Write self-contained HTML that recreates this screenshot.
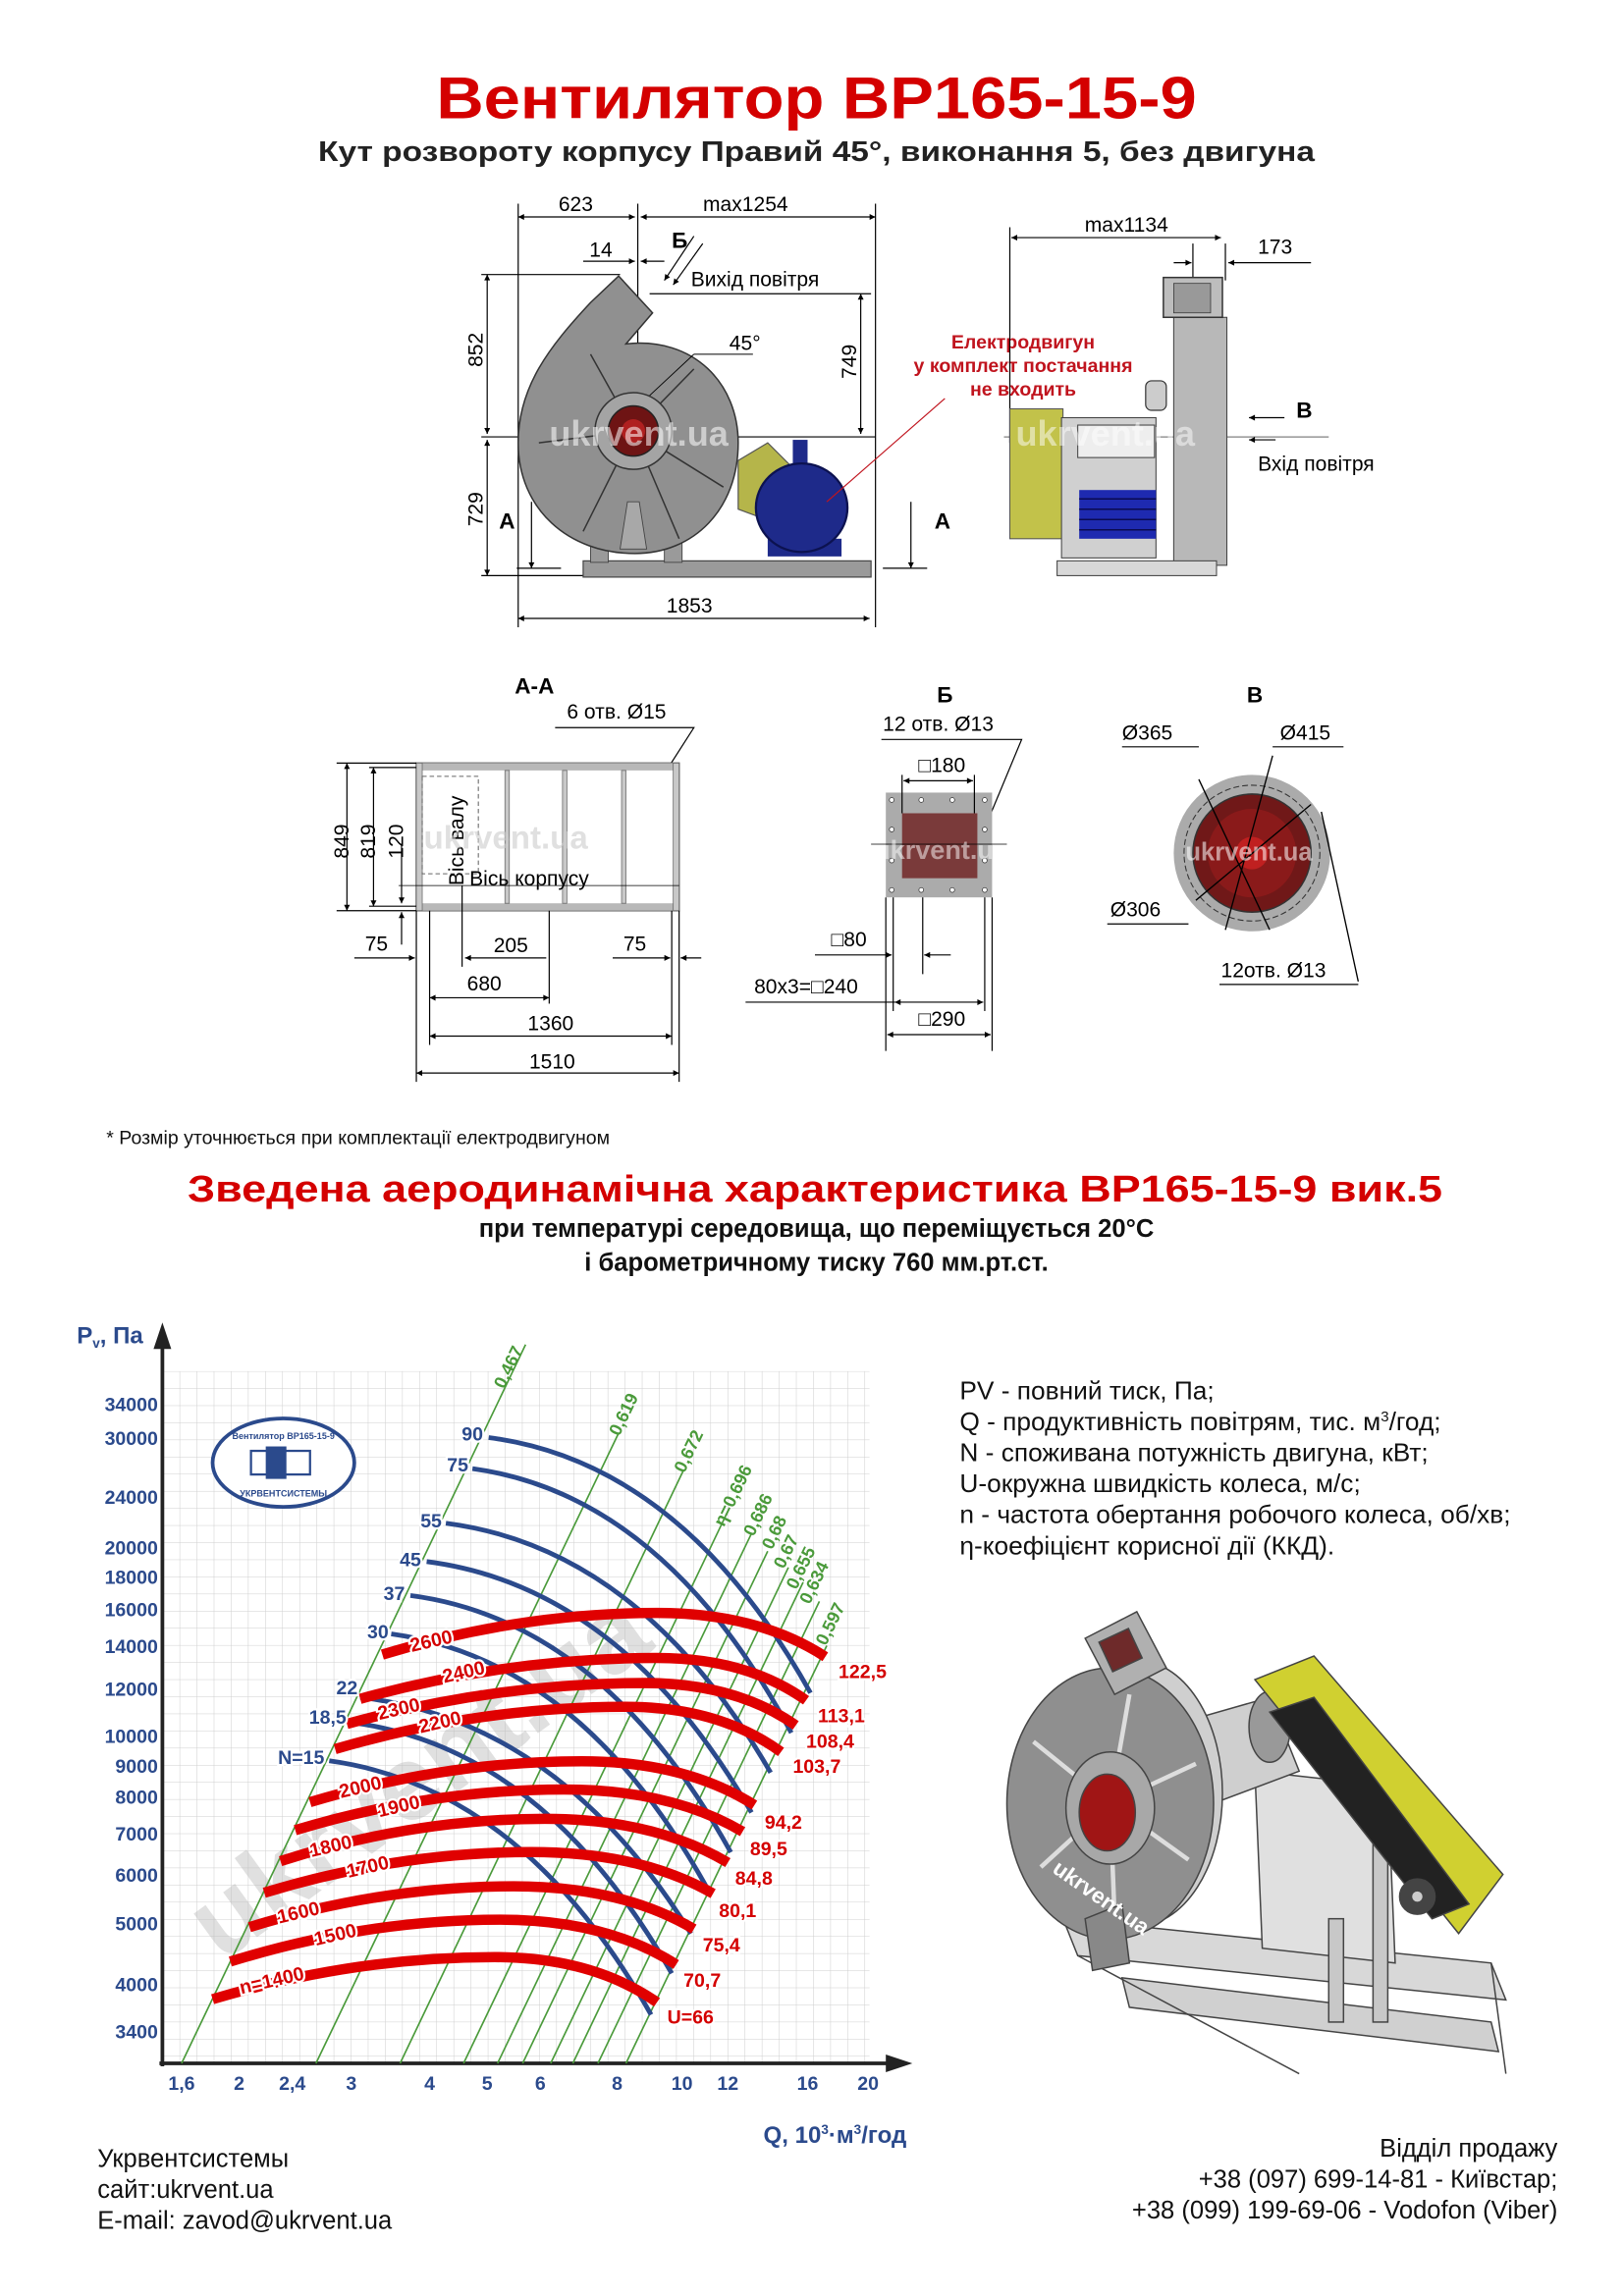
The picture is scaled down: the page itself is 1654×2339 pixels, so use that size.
<!DOCTYPE html>
<html><head><meta charset="utf-8"><style>
html,body{margin:0;padding:0;background:#fff;}
svg{display:block;font-family:"Liberation Sans",Arial,sans-serif;}
.b{font-weight:bold}
.dim{stroke:#000;stroke-width:0.8;fill:none}
.t{font-size:14px;fill:#000}
.ax{font-size:13px;font-weight:bold;fill:#2b4a8c}
.rl{font-size:13px;font-weight:bold;fill:#d40000;stroke:#fff;stroke-width:3;paint-order:stroke}
.bl{font-size:13px;font-weight:bold;fill:#2b4a8c;stroke:#fff;stroke-width:3;paint-order:stroke}
.gl{font-size:12px;font-weight:bold;fill:#4a9a3a}
.red path{fill:none;stroke:#e00000;stroke-width:7}
.blue path{fill:none;stroke:#2b4a8c;stroke-width:3.2}
.grn line{stroke:#4a9a3a;stroke-width:1.1}
</style></head><body>
<svg width="1654" height="2339" viewBox="0 0 1100 1555.6" preserveAspectRatio="none" xmlns="http://www.w3.org/2000/svg">
<defs>
<pattern id="g" x="110" y="929" width="11.6" height="11.6" patternUnits="userSpaceOnUse">
<path d="M0 0H11.6M0 0V11.6" stroke="#cfcfcf" stroke-width="0.7" fill="none"/></pattern>
<marker id="ar" viewBox="0 0 10 10" refX="10" refY="5" markerWidth="9" markerHeight="5" orient="auto-start-reverse"><path d="M0 0L10 5L0 10z" fill="#000"/></marker>
</defs>

<!-- Titles -->
<text x="553" y="80" text-anchor="middle" class="b" font-size="40" fill="#d40000" textLength="515" lengthAdjust="spacingAndGlyphs">Вентилятор ВР165-15-9</text>
<text x="553" y="109" text-anchor="middle" class="b" font-size="19" fill="#222" textLength="675" lengthAdjust="spacingAndGlyphs">Кут розвороту корпусу Правий 45°, виконання 5, без двигуна</text>

<!-- Front view -->
<g class="dim">
<line x1="351" y1="138" x2="351" y2="425"/><line x1="432" y1="138" x2="432" y2="300"/><line x1="593" y1="138" x2="593" y2="425"/>
<line x1="351" y1="147" x2="430" y2="147" marker-start="url(#ar)" marker-end="url(#ar)"/>
<line x1="434" y1="147" x2="593" y2="147" marker-start="url(#ar)" marker-end="url(#ar)"/>
<line x1="395" y1="177" x2="430" y2="177" marker-end="url(#ar)"/><line x1="450" y1="177" x2="434" y2="177" marker-end="url(#ar)"/>
<line x1="326" y1="186" x2="420" y2="186"/><line x1="326" y1="296" x2="593" y2="296"/><line x1="326" y1="390" x2="395" y2="390"/>
<line x1="330" y1="186" x2="330" y2="294" marker-start="url(#ar)" marker-end="url(#ar)"/>
<line x1="330" y1="298" x2="330" y2="390" marker-start="url(#ar)" marker-end="url(#ar)"/>
<line x1="440" y1="199" x2="590" y2="199"/>
<line x1="583" y1="199" x2="583" y2="294" marker-start="url(#ar)" marker-end="url(#ar)"/>
<line x1="351" y1="419" x2="589" y2="419" marker-start="url(#ar)" marker-end="url(#ar)"/>
<line x1="360" y1="340" x2="360" y2="385" marker-end="url(#ar)"/><line x1="350" y1="385" x2="380" y2="385"/>
<line x1="617" y1="340" x2="617" y2="385" marker-end="url(#ar)"/><line x1="598" y1="385" x2="628" y2="385"/>
<line x1="470" y1="160" x2="450" y2="190" marker-end="url(#ar)"/><line x1="476" y1="165" x2="456" y2="193" marker-end="url(#ar)"/>
</g>
<text x="390" y="143" text-anchor="middle" class="t">623</text>
<text x="505" y="143" text-anchor="middle" class="t">max1254</text>
<text x="407" y="174" text-anchor="middle" class="t">14</text>
<text x="455" y="168" class="b" font-size="15">Б</text>
<text x="468" y="194" class="t">Вихід повітря</text>
<text transform="translate(327,237) rotate(-90)" text-anchor="middle" class="t">852</text>
<text transform="translate(327,345) rotate(-90)" text-anchor="middle" class="t">729</text>
<text transform="translate(580,245) rotate(-90)" text-anchor="middle" class="t">749</text>
<text x="338" y="358" class="b" font-size="15">А</text>
<text x="633" y="358" class="b" font-size="15">А</text>
<text x="467" y="415" text-anchor="middle" class="t">1853</text>

<!-- fan body -->
<path d="M500 312 L520 300 L550 330 L530 356 L500 345Z" fill="#b5b54a" stroke="#555" stroke-width="0.8"/>
<rect x="395" y="380" width="195" height="11" fill="#9a9a9a" stroke="#444" stroke-width="0.8"/>
<rect x="400" y="355" width="12" height="26" fill="#9a9a9a" stroke="#444" stroke-width="0.6"/>
<rect x="450" y="355" width="12" height="26" fill="#9a9a9a" stroke="#444" stroke-width="0.6"/>
<path d="M419 187 L442 212 L424 233 C470 228 500 260 500 300 C500 345 470 375 430 375 C385 375 351 345 351 300 C351 262 372 235 400 205 Z" fill="#909090" stroke="#333" stroke-width="1"/>
<g stroke="#333" stroke-width="1"><line x1="429" y1="292" x2="400" y2="240"/><line x1="429" y1="292" x2="470" y2="250"/><line x1="429" y1="292" x2="490" y2="330"/><line x1="429" y1="292" x2="460" y2="365"/><line x1="429" y1="292" x2="395" y2="360"/><line x1="429" y1="292" x2="365" y2="300"/></g>
<polygon points="420,372 438,372 433,340 425,340" fill="#a8a8a8" stroke="#444" stroke-width="0.6"/>
<circle cx="429" cy="292" r="26" fill="#a4a4a4" stroke="#333"/>
<circle cx="429" cy="292" r="17" fill="#6e1414" stroke="#222"/>
<circle cx="429" cy="292" r="8" fill="#b02020"/>
<text x="372" y="302" font-size="24" class="b" fill="#fff" opacity="0.55">ukrvent.ua</text>
<rect x="537" y="298" width="10" height="18" fill="#1e2a8a"/>
<rect x="520" y="365" width="50" height="12" fill="#1e2a8a"/>
<ellipse cx="543" cy="344" rx="31" ry="30" fill="#1e2a8a" stroke="#0c1250" stroke-width="1.5"/>
<line x1="640" y1="270" x2="560" y2="340" stroke="#c0141e" stroke-width="0.8"/>
<text x="494" y="237" class="t">45°</text>
<line x1="470" y1="240" x2="510" y2="240" stroke="#000" stroke-width="0.6"/>
<line x1="470" y1="240" x2="440" y2="268" stroke="#000" stroke-width="0.6"/>
<text x="693" y="236" text-anchor="middle" class="b" font-size="13" fill="#c0141e">Електродвигун</text>
<text x="693" y="252" text-anchor="middle" class="b" font-size="13" fill="#c0141e">у комплект постачання</text>
<text x="693" y="268" text-anchor="middle" class="b" font-size="13" fill="#c0141e">не входить</text>

<!-- side view -->
<g class="dim">
<line x1="684" y1="154" x2="684" y2="300"/><line x1="808" y1="165" x2="808" y2="190"/><line x1="830" y1="165" x2="830" y2="190"/>
<line x1="685" y1="161" x2="827" y2="161" marker-start="url(#ar)" marker-end="url(#ar)"/>
<line x1="795" y1="178" x2="807" y2="178" marker-end="url(#ar)"/><line x1="888" y1="178" x2="832" y2="178" marker-end="url(#ar)"/>
<line x1="870" y1="283" x2="846" y2="283" marker-end="url(#ar)"/><line x1="864" y1="298" x2="846" y2="298" marker-end="url(#ar)"/>
<line x1="680" y1="296" x2="900" y2="296" stroke-width="0.4"/>
</g>
<text x="763" y="157" text-anchor="middle" class="t">max1134</text>
<text x="852" y="172" class="t">173</text>
<text x="878" y="283" class="b" font-size="15">В</text>
<text x="852" y="319" class="t">Вхід повітря</text>
<rect x="684" y="277" width="36" height="88" fill="#c2c24a" stroke="#555" stroke-width="0.7"/>
<rect x="719" y="283" width="64" height="95" fill="#d0d0d0" stroke="#444" stroke-width="0.7"/>
<rect x="731" y="332" width="52" height="33" fill="#1e2ab0"/>
<g stroke="#0a0a50" stroke-width="1"><line x1="731" y1="338" x2="783" y2="338"/><line x1="731" y1="345" x2="783" y2="345"/><line x1="731" y1="352" x2="783" y2="352"/><line x1="731" y1="359" x2="783" y2="359"/></g>
<rect x="730" y="288" width="52" height="22" fill="#eee" stroke="#444" stroke-width="0.7"/>
<rect x="795" y="215" width="36" height="168" fill="#b8b8b8" stroke="#444" stroke-width="0.7"/>
<rect x="788" y="188" width="40" height="27" fill="#bdbdbd" stroke="#333" stroke-width="1"/>
<rect x="795" y="192" width="25" height="20" fill="#999" stroke="#333" stroke-width="0.5"/>
<rect x="776" y="258" width="14" height="20" rx="4" fill="#ccc" stroke="#333" stroke-width="0.8"/>
<rect x="716" y="380" width="108" height="10" fill="#d8d8d8" stroke="#444" stroke-width="0.7"/>
<text x="688" y="302" font-size="24" class="b" fill="#fff" opacity="0.5">ukrvent.ua</text>

<!-- Section A-A -->
<text x="362" y="470" text-anchor="middle" class="b" font-size="15">А-А</text>
<text x="384" y="487" class="t">6 отв. Ø15</text>
<polyline points="376,493 470,493 445,532" class="dim"/>
<rect x="282" y="517" width="178" height="100" fill="#fff" stroke="#555"/>
<rect x="282" y="517" width="178" height="5" fill="#b8b8b8"/>
<rect x="282" y="612" width="178" height="5" fill="#b8b8b8"/>
<g fill="#c8c8c8" stroke="#666" stroke-width="0.5"><rect x="282" y="517" width="4" height="100"/><rect x="342" y="522" width="3" height="90"/><rect x="381" y="522" width="3" height="90"/><rect x="421" y="522" width="3" height="90"/><rect x="456" y="517" width="4" height="100"/></g>
<rect x="286" y="526" width="38" height="66" fill="none" stroke="#666" stroke-dasharray="3,2" stroke-width="0.7"/>
<text transform="translate(314,600) rotate(-90)" class="t">Вісь валу</text>
<text x="318" y="600" class="t">Вісь корпусу</text>
<text x="287" y="575" font-size="22" class="b" fill="#ccc" opacity="0.6">ukrvent.ua</text>
<g class="dim">
<line x1="228" y1="517" x2="282" y2="517"/><line x1="228" y1="617" x2="282" y2="617"/><line x1="250" y1="520" x2="282" y2="520"/><line x1="250" y1="614" x2="282" y2="614"/>
<line x1="235" y1="517" x2="235" y2="617" marker-start="url(#ar)" marker-end="url(#ar)"/>
<line x1="253" y1="520" x2="253" y2="614" marker-start="url(#ar)" marker-end="url(#ar)"/>
<line x1="272" y1="572" x2="272" y2="612" marker-end="url(#ar)"/><line x1="272" y1="640" x2="272" y2="618" marker-end="url(#ar)"/>
<line x1="270" y1="600" x2="460" y2="600" stroke-width="0.5"/>
<line x1="282" y1="617" x2="282" y2="733"/><line x1="291" y1="617" x2="291" y2="708"/><line x1="313" y1="600" x2="313" y2="655"/><line x1="372" y1="617" x2="372" y2="680"/><line x1="455" y1="617" x2="455" y2="708"/><line x1="460" y1="617" x2="460" y2="733"/>
<line x1="240" y1="649" x2="281" y2="649" marker-end="url(#ar)"/><line x1="370" y1="649" x2="315" y2="649" marker-end="url(#ar)"/>
<line x1="415" y1="649" x2="454" y2="649" marker-end="url(#ar)"/><line x1="475" y1="649" x2="461" y2="649" marker-end="url(#ar)"/>
<line x1="291" y1="676" x2="372" y2="676" marker-start="url(#ar)" marker-end="url(#ar)"/>
<line x1="291" y1="702" x2="455" y2="702" marker-start="url(#ar)" marker-end="url(#ar)"/>
<line x1="282" y1="727" x2="460" y2="727" marker-start="url(#ar)" marker-end="url(#ar)"/>
</g>
<text transform="translate(236,570) rotate(-90)" text-anchor="middle" class="t">849</text>
<text transform="translate(254,570) rotate(-90)" text-anchor="middle" class="t">819</text>
<text transform="translate(273,570) rotate(-90)" text-anchor="middle" class="t">120</text>
<text x="255" y="644" text-anchor="middle" class="t">75</text>
<text x="346" y="645" text-anchor="middle" class="t">205</text>
<text x="430" y="644" text-anchor="middle" class="t">75</text>
<text x="328" y="671" text-anchor="middle" class="t">680</text>
<text x="373" y="698" text-anchor="middle" class="t">1360</text>
<text x="374" y="724" text-anchor="middle" class="t">1510</text>

<!-- Б -->
<text x="640" y="476" text-anchor="middle" class="b" font-size="15">Б</text>
<text x="598" y="495" class="t">12 отв. Ø13</text>
<polyline points="597,501 692,501 655,590" class="dim"/>
<rect x="600" y="537" width="72" height="71" fill="#ababab"/>
<rect x="611" y="551" width="51" height="44" fill="#7a3a3a"/>
<g fill="#fff" stroke="#333" stroke-width="0.5"><circle cx="604" cy="542" r="1.6"/><circle cx="624" cy="542" r="1.6"/><circle cx="645" cy="542" r="1.6"/><circle cx="667" cy="542" r="1.6"/><circle cx="604" cy="603" r="1.6"/><circle cx="624" cy="603" r="1.6"/><circle cx="645" cy="603" r="1.6"/><circle cx="667" cy="603" r="1.6"/><circle cx="604" cy="562" r="1.6"/><circle cx="604" cy="583" r="1.6"/><circle cx="667" cy="562" r="1.6"/><circle cx="667" cy="583" r="1.6"/></g>
<line x1="590" y1="572" x2="682" y2="572" stroke="#000" stroke-width="0.5"/>
<text x="592" y="582" font-size="18" class="b" fill="#fff" opacity="0.5">ukrvent.ua</text>
<text x="638" y="523" text-anchor="middle" class="t">□180</text>
<text x="575" y="641" text-anchor="middle" class="t">□80</text>
<text x="546" y="673" text-anchor="middle" class="t">80х3=□240</text>
<text x="638" y="695" text-anchor="middle" class="t">□290</text>
<g class="dim">
<line x1="611" y1="525" x2="611" y2="551"/><line x1="660" y1="525" x2="660" y2="551"/>
<line x1="612" y1="529" x2="659" y2="529" marker-start="url(#ar)" marker-end="url(#ar)"/>
<line x1="600" y1="608" x2="600" y2="712"/><line x1="672" y1="608" x2="672" y2="712"/><line x1="605" y1="608" x2="605" y2="685"/><line x1="625" y1="608" x2="625" y2="660"/><line x1="667" y1="608" x2="667" y2="685"/>
<line x1="552" y1="647" x2="604" y2="647" marker-end="url(#ar)"/><line x1="644" y1="647" x2="626" y2="647" marker-end="url(#ar)"/>
<line x1="505" y1="679" x2="606" y2="679"/><line x1="606" y1="679" x2="666" y2="679" marker-start="url(#ar)" marker-end="url(#ar)"/>
<line x1="601" y1="701" x2="671" y2="701" marker-start="url(#ar)" marker-end="url(#ar)"/>
</g>

<!-- В -->
<text x="850" y="476" text-anchor="middle" class="b" font-size="15">В</text>
<circle cx="848" cy="578" r="53" fill="#ababab"/>
<circle cx="848" cy="578" r="46" fill="none" stroke="#333" stroke-width="0.7" stroke-dasharray="4,2"/>
<circle cx="848" cy="578" r="40" fill="#701818" stroke="#333"/>
<circle cx="848" cy="578" r="30" fill="#8a1a1a"/>
<circle cx="848" cy="578" r="11" fill="#c02020"/>
<g stroke="#000" stroke-width="0.9"><line x1="812" y1="528" x2="860" y2="630"/><line x1="862" y1="512" x2="830" y2="630"/><line x1="810" y1="610" x2="888" y2="545"/><line x1="895" y1="550" x2="920" y2="665"/></g>
<line x1="760" y1="506" x2="812" y2="506" stroke="#000" stroke-width="0.8"/>
<line x1="862" y1="506" x2="910" y2="506" stroke="#000" stroke-width="0.8"/>
<line x1="750" y1="626" x2="805" y2="626" stroke="#000" stroke-width="0.8"/>
<line x1="826" y1="667" x2="920" y2="667" stroke="#000" stroke-width="0.8"/>
<text x="760" y="501" class="t">Ø365</text>
<text x="867" y="501" class="t">Ø415</text>
<text x="752" y="621" class="t">Ø306</text>
<text x="827" y="662" class="t">12отв. Ø13</text>
<text x="803" y="583" font-size="17" class="b" fill="#fff" opacity="0.55">ukrvent.ua</text>

<text x="72" y="775" font-size="13" fill="#111">* Розмір уточнюється при комплектації електродвигуном</text>

<!-- chart heading -->
<text x="552" y="814" text-anchor="middle" class="b" font-size="25" fill="#d40000" textLength="850" lengthAdjust="spacingAndGlyphs">Зведена аеродинамічна характеристика ВР165-15-9 вик.5</text>
<text x="553" y="838" text-anchor="middle" class="b" font-size="17" fill="#111">при температурі середовища, що переміщується 20°С</text>
<text x="553" y="861" text-anchor="middle" class="b" font-size="17" fill="#111">і барометричному тиску 760 мм.рт.ст.</text>

<!-- chart -->
<rect x="110" y="929" width="479" height="469" fill="url(#g)"/>
<line x1="110" y1="1400" x2="110" y2="908" stroke="#222" stroke-width="2.5"/>
<polygon points="110,896 104,914 116,914" fill="#222"/>
<line x1="108" y1="1398" x2="605" y2="1398" stroke="#222" stroke-width="2.5"/>
<polygon points="618,1398 600,1392 600,1404" fill="#222"/>
<text x="52" y="910" class="b" font-size="16" fill="#2b4a8c">P<tspan font-size="9" dy="3">v</tspan><tspan dy="-3">, Па</tspan></text>
<text x="614" y="1452" text-anchor="end" class="b" font-size="16" fill="#2b4a8c">Q, 10<tspan font-size="9" dy="-6">3</tspan><tspan dy="6">·м</tspan><tspan font-size="9" dy="-6">3</tspan><tspan dy="6">/год</tspan></text>
<g class="ax" text-anchor="end">
<text x="107" y="956">34000</text><text x="107" y="979">30000</text><text x="107" y="1019">24000</text><text x="107" y="1053">20000</text><text x="107" y="1073">18000</text><text x="107" y="1095">16000</text><text x="107" y="1120">14000</text><text x="107" y="1149">12000</text><text x="107" y="1181">10000</text><text x="107" y="1201">9000</text><text x="107" y="1222">8000</text><text x="107" y="1247">7000</text><text x="107" y="1275">6000</text><text x="107" y="1308">5000</text><text x="107" y="1349">4000</text><text x="107" y="1381">3400</text>
</g>
<g class="ax" text-anchor="middle">
<text x="123" y="1416">1,6</text><text x="162" y="1416">2</text><text x="198" y="1416">2,4</text><text x="238" y="1416">3</text><text x="291" y="1416">4</text><text x="330" y="1416">5</text><text x="366" y="1416">6</text><text x="418" y="1416">8</text><text x="462" y="1416">10</text><text x="493" y="1416">12</text><text x="547" y="1416">16</text><text x="588" y="1416">20</text>
</g>

<!-- logo -->
<ellipse cx="192" cy="991" rx="48" ry="30" fill="#fff" stroke="#2b4a8c" stroke-width="2.5"/>
<rect x="170" y="983" width="40" height="16" fill="#fff" stroke="#2b4a8c" stroke-width="1.5"/>
<rect x="180" y="980" width="14" height="22" fill="#2b4a8c"/>
<text x="192" y="975" text-anchor="middle" font-size="6" class="b" fill="#2b4a8c">Вентилятор ВР165-15-9</text>
<text x="192" y="1014" text-anchor="middle" font-size="6" class="b" fill="#2b4a8c">УКРВЕНТСИСТЕМЫ</text>

<!-- watermark -->
<text transform="translate(150,1330) rotate(-36)" font-size="72" class="b" fill="#bbb" opacity="0.45">ukrvent.ua</text>

<!-- green lines -->
<g class="grn">
<line x1="123" y1="1398" x2="356" y2="911"/><line x1="214" y1="1398" x2="419" y2="971"/><line x1="271" y1="1398" x2="463" y2="996"/>
<line x1="314" y1="1398" x2="492" y2="1026" stroke-width="3.5"/>
<line x1="337" y1="1398" x2="509" y2="1039"/><line x1="354" y1="1398" x2="520" y2="1051"/><line x1="373" y1="1398" x2="534" y2="1062"/><line x1="388" y1="1398" x2="544" y2="1072"/><line x1="405" y1="1398" x2="555" y2="1085"/><line x1="424" y1="1398" x2="560" y2="1115"/>
</g>
<g class="gl" text-anchor="middle">
<text transform="translate(348,928) rotate(-64)">0,467</text>
<text transform="translate(426,960) rotate(-64)">0,619</text>
<text transform="translate(470,985) rotate(-64)">0,672</text>
<text transform="translate(500,1015) rotate(-64)">η=0,696</text>
<text transform="translate(517,1028) rotate(-64)">0,686</text>
<text transform="translate(528,1040) rotate(-64)">0,68</text>
<text transform="translate(536,1053) rotate(-64)">0,67</text>
<text transform="translate(546,1064) rotate(-64)">0,655</text>
<text transform="translate(555,1074) rotate(-64)">0,634</text>
<text transform="translate(566,1102) rotate(-64)">0,597</text>
</g>

<!-- blue curves -->
<g class="blue">
<path d="M331 974 Q462 991 549 1147"/><path d="M320 995 Q450 1013 536 1174"/><path d="M302 1032 Q434 1049 522 1201"/><path d="M289 1058 Q421 1075 509 1228"/><path d="M278 1081 Q408 1098 495 1255"/><path d="M265 1107 Q395 1125 481 1283"/><path d="M244 1150 Q379 1166 468 1310"/><path d="M238 1167 Q368 1184 455 1337"/><path d="M223 1193 Q354 1211 441 1365"/>
</g>
<!-- red curves -->
<g class="red">
<path d="M144 1354.5 Q239.5 1326 335 1326 Q401 1326 445 1356.6"/>
<path d="M156 1329 Q247.5 1300.6 339 1300.6 Q410.4 1300.6 458 1331"/>
<path d="M169 1305.7 Q258.5 1278 348 1278 Q421 1278 470 1307"/>
<path d="M179 1282.4 Q269.5 1254.8 360 1254.8 Q434 1254.8 483 1283"/>
<path d="M190 1261 Q279.5 1232.3 369 1232.3 Q443.4 1232.3 493 1262"/>
<path d="M200 1240 Q291 1212.4 382 1212.4 Q454.6 1212.4 503 1241"/>
<path d="M210 1221 Q302 1193.3 394 1193.3 Q464 1193.3 511 1223"/>
<path d="M227 1185 Q325.5 1156.4 424 1156.4 Q487 1156.4 529 1187"/>
<path d="M235 1168 Q336 1140.3 437 1140.3 Q498 1140.3 539 1169"/>
<path d="M244 1151 Q344.5 1123.3 445 1123.3 Q505.6 1123.3 546 1152"/>
<path d="M259 1121 Q352 1092.8 445 1092.8 Q513.4 1092.8 559 1122.5"/>
</g>
<g class="bl" text-anchor="middle">
<text x="320" y="976">90</text><text x="310" y="997">75</text><text x="292" y="1035">55</text><text x="278" y="1061">45</text><text x="267" y="1084">37</text><text x="256" y="1110">30</text><text x="235" y="1148">22</text><text x="222" y="1168">18,5</text><text x="204" y="1195">N=15</text>
</g>
<g class="rl" text-anchor="middle">
<text transform="translate(293,1116) rotate(-13)">2600</text>
<text transform="translate(315,1137) rotate(-13)">2400</text>
<text transform="translate(271,1162) rotate(-13)">2300</text>
<text transform="translate(299,1171) rotate(-13)">2200</text>
<text transform="translate(245,1215) rotate(-13)">2000</text>
<text transform="translate(271,1228) rotate(-13)">1900</text>
<text transform="translate(225,1255) rotate(-13)">1800</text>
<text transform="translate(250,1269) rotate(-13)">1700</text>
<text transform="translate(203,1300) rotate(-13)">1600</text>
<text transform="translate(228,1315) rotate(-13)">1500</text>
<text transform="translate(185,1346) rotate(-13)">n=1400</text>
</g>
<g class="rl">
<text x="568" y="1137">122,5</text><text x="554" y="1167">113,1</text><text x="546" y="1184">108,4</text><text x="537" y="1201">103,7</text><text x="518" y="1239">94,2</text><text x="508" y="1257">89,5</text><text x="498" y="1277">84,8</text><text x="487" y="1299">80,1</text><text x="476" y="1322">75,4</text><text x="463" y="1346">70,7</text><text x="452" y="1371">U=66</text>
</g>

<!-- legend -->
<g font-size="17.5" fill="#111">
<text x="650" y="948">PV - повний тиск, Па;</text>
<text x="650" y="969">Q - продуктивність повітрям, тис. м<tspan font-size="10" dy="-6">3</tspan><tspan dy="6">/год;</tspan></text>
<text x="650" y="990">N - споживана потужність двигуна, кВт;</text>
<text x="650" y="1011">U-окружна швидкість колеса, м/с;</text>
<text x="650" y="1032">n - частота обертання робочого колеса, об/хв;</text>
<text x="650" y="1053">η-коефіцієнт корисної дії (ККД).</text>
</g>

<!-- 3D fan -->
<g stroke="#444" stroke-width="1">
<polygon points="720,1300 1010,1330 1020,1355 730,1325" fill="#d8d8d8"/>
<polygon points="760,1340 1010,1370 1015,1390 765,1360" fill="#d0d0d0"/>
<line x1="730" y1="1325" x2="880" y2="1405"/><line x1="1010" y1="1330" x2="1020" y2="1405"/>
<polygon points="850,1200 940,1210 945,1330 855,1320" fill="#e0e0e0"/>
<rect x="930" y="1220" width="10" height="150" fill="#c8c8c8"/>
<rect x="900" y="1300" width="10" height="70" fill="#c8c8c8"/>
<polygon points="790,1170 860,1150 880,1200 800,1230" fill="#cfcfcf"/>
<ellipse cx="860" cy="1170" rx="14" ry="24" fill="#999"/>
<polygon points="850,1138 890,1122 1018,1270 988,1310" fill="#d0d030"/>
<polygon points="860,1160 890,1150 995,1290 970,1300" fill="#222"/>
<circle cx="960" cy="1285" r="12" fill="#444"/><circle cx="960" cy="1285" r="4" fill="#ccc"/>
<ellipse cx="770" cy="1215" rx="58" ry="90" fill="#cfcfcf"/>
<ellipse cx="752" cy="1222" rx="70" ry="92" fill="#8f8f8f"/>
<polygon points="735,1110 770,1092 790,1130 755,1148" fill="#b0b0b0"/>
<rect x="748" y="1107" width="22" height="22" fill="#6e2a2a" transform="rotate(-25 759 1118)"/>
<g stroke="#ddd" stroke-width="3"><line x1="752" y1="1222" x2="765" y2="1148"/><line x1="752" y1="1222" x2="810" y2="1195"/><line x1="752" y1="1222" x2="805" y2="1260"/><line x1="752" y1="1222" x2="755" y2="1300"/><line x1="752" y1="1222" x2="705" y2="1265"/><line x1="752" y1="1222" x2="700" y2="1180"/></g>
<ellipse cx="752" cy="1225" rx="30" ry="38" fill="#a8a8a8"/>
<ellipse cx="750" cy="1228" rx="19" ry="26" fill="#a01515"/>
<polygon points="735,1300 760,1290 765,1330 740,1335" fill="#888"/>
</g>
<text transform="translate(712,1268) rotate(35)" font-size="15" class="b" fill="#fff">ukrvent.ua</text>

<!-- footer -->
<g font-size="17" fill="#111">
<text x="66" y="1468">Укрвентсистемы</text>
<text x="66" y="1489">сайт:ukrvent.ua</text>
<text x="66" y="1510">E-mail: zavod@ukrvent.ua</text>
<text x="1055" y="1461" text-anchor="end">Відділ продажу</text>
<text x="1055" y="1482" text-anchor="end">+38 (097) 699-14-81 - Київстар;</text>
<text x="1055" y="1503" text-anchor="end">+38 (099) 199-69-06 - Vodofon (Viber)</text>
</g>
</svg>
</body></html>
